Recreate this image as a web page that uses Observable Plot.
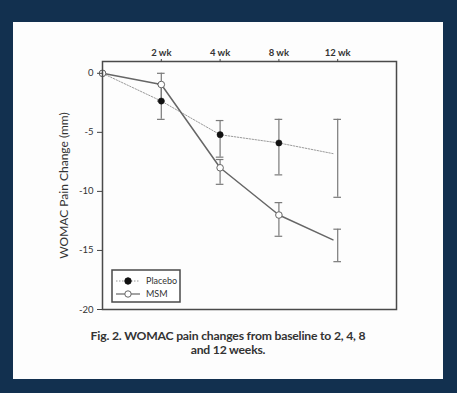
<!DOCTYPE html>
<html>
<head>
<meta charset="utf-8">
<script src="https://cdn.jsdelivr.net/npm/d3@7"></script>
<script src="https://cdn.jsdelivr.net/npm/@observablehq/plot@0.6"></script>
<style>
  html, body { margin: 0; padding: 0; }
  body { width: 457px; height: 393px; background: #12304f; position: relative; overflow: hidden; font-family: Lato, "Open Sans", sans-serif; }
  #card { position: absolute; left: 13px; top: 22px; width: 430px; height: 357px; background: #fdfdfd; }
  #chart svg { display: block; }
  #caption { margin-top: 7px; text-align: center; font-size: 12.2px; line-height: 14px; font-weight: 700; color: #333; letter-spacing: -0.2px; }
  #legend { position: absolute; left: 98px; top: 247px; }
</style>
</head>
<body>
<div id="card">
  <div id="chart"></div>
  <div id="caption">Fig. 2. WOMAC pain changes from baseline to 2, 4, 8<br>and 12 weeks.</div>
  <div id="legend"></div>
</div>
<script>
// ---- data ----
const xLabels = ["2 wk", "4 wk", "8 wk", "12 wk"];
const xTicks = [1, 2, 3, 4];
const yTicks = [0, -5, -10, -15, -20];
const seriesNames = ["Placebo", "MSM"];
const lineX = [0, 1, 2, 3, 3.92];          // line positions (12 wk line ends just before bar)
const markerX = [0, 1, 2, 3];               // markers drawn through 8 wk
const placebo = [0, -2.35, -5.2, -5.9, -6.8];
const msm = [0, -0.95, -8.0, -12.0, -14.1];
const errX = [1, 2, 3, 4];
const placeboLo = [-3.9, -7.1, -8.6, -10.5];
const placeboHi = [-0.95, -4.0, -3.9, -3.9];
const msmLo = [-2.35, -9.4, -13.8, -15.95];
const msmHi = [0.0, -7.3, -10.95, -13.2];
const yLabel = "WOMAC Pain Change (mm)";

// ---- build tables ----
const placeboLine = lineX.map((x, i) => ({x, y: placebo[i]}));
const msmLine = lineX.map((x, i) => ({x, y: msm[i]}));
const placeboDots = markerX.map((x, i) => ({x, y: placebo[i]}));
const msmDots = markerX.map((x, i) => ({x, y: msm[i]}));
const errs = [
  ...errX.map((x, i) => ({x, lo: placeboLo[i], hi: placeboHi[i]})),
  ...errX.map((x, i) => ({x, lo: msmLo[i], hi: msmHi[i]}))
];
const caps = errs.flatMap(d => [{x: d.x, y: d.lo}, {x: d.x, y: d.hi}]);
const capHalf = 0.065;

const errColor = "#7a7a7a";
const chart = Plot.plot({
  width: 430,
  height: 300,
  marginLeft: 89,
  marginRight: 47,
  marginTop: 39,
  marginBottom: 13,
  style: {fontFamily: "Lato, 'Open Sans', sans-serif", fontSize: "9.5px", color: "#333", background: "transparent"},
  x: {domain: [0, 5]},
  y: {domain: [-20, 1]},
  marks: [
    Plot.ruleX(errs, {x: "x", y1: "lo", y2: "hi", stroke: errColor, strokeWidth: 1.2}),
    Plot.ruleY(caps, {y: "y", x1: d => d.x - capHalf, x2: d => d.x + capHalf, stroke: errColor, strokeWidth: 1.2}),
    Plot.line(placeboLine, {x: "x", y: "y", stroke: "#9a9a9a", strokeWidth: 1, strokeDasharray: "1.5,1.5"}),
    Plot.line(msmLine, {x: "x", y: "y", stroke: "#666", strokeWidth: 1.5}),
    Plot.dot(placeboDots, {x: "x", y: "y", r: 3.1, fill: "#111", stroke: "#111", strokeWidth: 0.5}),
    Plot.dot(msmDots, {x: "x", y: "y", r: 3.3, fill: "#fff", stroke: "#666", strokeWidth: 1}),
    Plot.frame({stroke: "#4a4a4a", strokeWidth: 1.5}),
    Plot.axisX({anchor: "top", ticks: xTicks, tickFormat: d => xLabels[xTicks.indexOf(d)], tickSize: 3, tickPadding: 3, label: null, fontWeight: 700, stroke: "#444", fill: "#333"}),
    Plot.axisY({ticks: yTicks, tickFormat: d => d === 0 ? "0" : "-" + Math.abs(d), tickSize: 5, tickPadding: 4, label: null, stroke: "#444", fill: "#333"}),
    Plot.text([yLabel], {frameAnchor: "left", rotate: -90, dx: -38, fontSize: 12, fill: "#333", textAnchor: "middle"})
  ]
});
document.getElementById("chart").appendChild(chart);

// ---- legend ----
const lg = d3.select("#legend").append("svg").attr("width", 72).attr("height", 36);
lg.append("rect").attr("x", 1).attr("y", 1).attr("width", 68).attr("height", 32).attr("fill", "#fff").attr("stroke", "#4a4a4a").attr("stroke-width", 1.5);
seriesNames.forEach((name, i) => {
  const cy = 12 + i * 13;
  lg.append("line").attr("x1", 5).attr("x2", 29).attr("y1", cy).attr("y2", cy)
    .attr("stroke", i === 0 ? "#9a9a9a" : "#666").attr("stroke-width", i === 0 ? 1 : 1.2)
    .attr("stroke-dasharray", i === 0 ? "1.5,1.5" : null);
  lg.append("circle").attr("cx", 17).attr("cy", cy).attr("r", 3.2)
    .attr("fill", i === 0 ? "#111" : "#fff").attr("stroke", i === 0 ? "#111" : "#666").attr("stroke-width", 1);
  lg.append("text").attr("x", 35).attr("y", cy + 3).attr("font-size", 9).attr("fill", "#333")
    .attr("font-family", "Lato, 'Open Sans', sans-serif").text(name);
});
</script>
</body>
</html>
